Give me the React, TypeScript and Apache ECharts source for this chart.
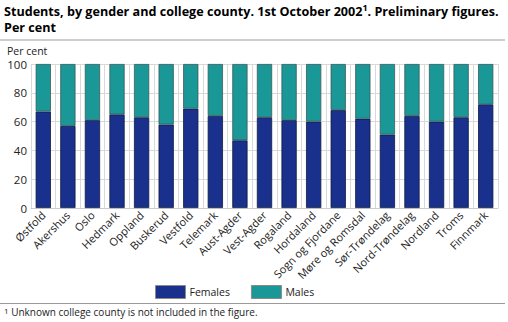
import React, { useEffect, useRef } from "react";
import * as echarts from "echarts";

const counties = [
  "Østfold", "Akershus", "Oslo", "Hedmark", "Oppland", "Buskerud", "Vestfold",
  "Telemark", "Aust-Agder", "Vest-Agder", "Rogaland", "Hordaland",
  "Sogn og Fjordane", "Møre og Romsdal", "Sør-Trøndelag", "Nord-Trøndelag",
  "Nordland", "Troms", "Finnmark",
];
const females = [67, 57, 61, 65, 63, 58, 69, 64, 47, 63, 61, 60, 68, 62, 51, 64, 60, 63, 72];
const males = [33, 43, 39, 35, 37, 42, 31, 36, 53, 37, 39, 40, 32, 38, 49, 36, 40, 37, 28];
const yTicks = [0, 20, 40, 60, 80, 100];

const FONT = "'Open Sans', 'Noto Sans', sans-serif";
const FEMALE = "#19318c";
const MALE = "#1a9797";

export default function App() {
  const ref = useRef<HTMLDivElement>(null);
  useEffect(() => {
    if (!ref.current) return;
    const chart = echarts.init(ref.current, undefined, { renderer: "svg" });
    chart.setOption({
      animation: false,
      textStyle: { fontFamily: FONT },
      graphic: [
        {
          type: "text", left: 4, top: 3,
          style: {
            text: "Students, by gender and college county. 1st October 2002{s|1}. Preliminary figures.\nPer cent",
            font: `bold 12.6px ${FONT}`, fill: "#000", lineHeight: 16,
            rich: { s: { font: `bold 9px ${FONT}`, verticalAlign: "top", lineHeight: 16, padding: [0, 0, 4, 0] } },
          },
        },
        { type: "line", shape: { x1: 0, y1: 40, x2: 505, y2: 40 }, style: { stroke: "#bdbdbd", lineWidth: 1.5 } },
        { type: "text", left: 7, top: 45, style: { text: "Per cent", font: `10.5px ${FONT}`, fill: "#222" } },
        { type: "line", shape: { x1: 0, y1: 303.5, x2: 505, y2: 303.5 }, style: { stroke: "#9a9a9a", lineWidth: 1 } },
        {
          type: "text", left: 4, top: 306,
          style: {
            text: "{s|1} Unknown college county is not included in the figure.",
            font: `10px ${FONT}`, fill: "#222",
            rich: { s: { font: `8px ${FONT}`, verticalAlign: "top", padding: [0, 0, 4, 0] } },
          },
        },
      ],
      legend: {
        left: 155, top: 285, itemWidth: 30, itemHeight: 13, itemGap: 21, padding: 0,
        icon: "rect",
        textStyle: { fontSize: 10.5, color: "#222", fontFamily: FONT, padding: [0, 0, 0, -1] },
        itemStyle: { borderColor: "#8a8a8a", borderWidth: 1 },
        data: ["Females", "Males"],
      },
      grid: { left: 31, right: 10, top: 64, bottom: 114, containLabel: false },
      xAxis: {
        type: "category", data: counties,
        axisLine: { show: true, lineStyle: { color: "#cccccc" } },
        axisTick: { show: false },
        splitLine: { show: true, lineStyle: { color: "#d9d9d9", width: 1 } },
        axisLabel: { rotate: 45, fontSize: 11, color: "#222", margin: 5, interval: 0, fontFamily: FONT },
      },
      yAxis: {
        type: "value", min: 0, max: 100, interval: 20,
        axisLine: { show: false }, axisTick: { show: false },
        splitLine: { lineStyle: { color: "#d9d9d9" } },
        axisLabel: {
          fontSize: 11.5, color: "#222", margin: 4, fontFamily: FONT,
          formatter: (v: number) => (yTicks.includes(v) ? String(v) : ""),
        },
      },
      series: [
        {
          name: "Females", type: "bar", stack: "total", data: females, barWidth: "62%",
          itemStyle: { color: FEMALE, borderColor: "#0d1a40", borderWidth: 0.8 },
        },
        {
          name: "Males", type: "bar", stack: "total", data: males, barWidth: "62%",
          itemStyle: { color: MALE, borderColor: "#3c5a5a", borderWidth: 0.8 },
        },
      ],
    });
    return () => chart.dispose();
  }, []);
  return <div ref={ref} style={{ width: 508, height: 322, position: "absolute", left: 0, top: 0 }} />;
}
